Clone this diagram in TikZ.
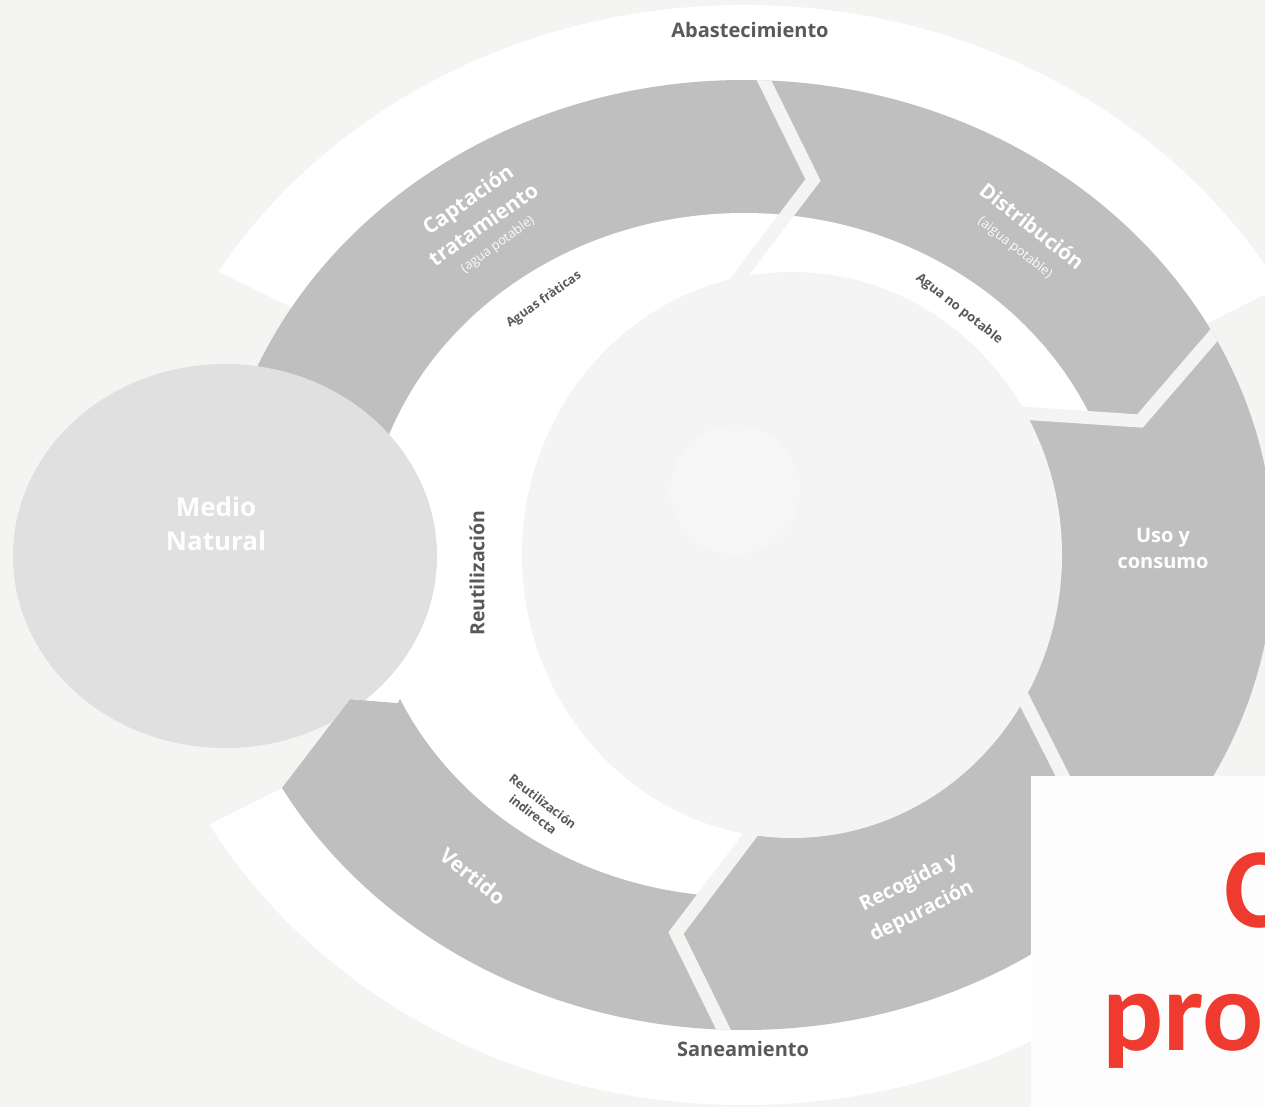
\documentclass[tikz,border=0pt]{standalone}
\usepackage{fontspec}
\setmainfont{Open Sans}
\newfontfamily\redfont{Carlito}
\definecolor{bgc}{HTML}{F4F4F3}
\definecolor{segc}{HTML}{BFBFBF}
\definecolor{natc}{HTML}{E0E0E0}
\definecolor{txtc}{HTML}{595959}
\definecolor{redc}{HTML}{EE3A2F}
\definecolor{innc}{HTML}{F4F4F4}
\definecolor{faintc}{HTML}{F6F6F6}
\definecolor{boxc}{HTML}{FDFDFD}
\tikzset{
 stripe/.style={draw=bgc, line width=13pt, line join=miter, line cap=butt},
 seglbl/.style={text=white, font=\fontsize{21}{25}\selectfont\bfseries, inner sep=0pt},
 sublbl/.style={text=white!94!segc, font=\fontsize{13}{16}\selectfont, inner sep=0pt},
 darklbl/.style={text=txtc, font=\fontsize{12.5}{16}\selectfont\bfseries, inner sep=0pt},
 ringlbl/.style={text=txtc, font=\fontsize{20}{24}\selectfont\bfseries, inner sep=0pt},
}
\begin{document}
\begin{tikzpicture}[x=1pt,y=-1pt]
\useasboundingbox (0,0) rectangle (1265,1107);
\clip (0,0) rectangle (1265,1107);
\fill[bgc] (0,0) rectangle (1265,1107);
\coordinate (C) at (744,555);
% outer white band
\fill[white] (C) ellipse [x radius=613pt, y radius=550pt];
\fill[bgc] (774,542) -- (-100,117) -- (-100,979) -- cycle;
\fill[bgc] (744,558) -- (1400,226) -- (1400,1000) -- cycle;
% gray ring
\begin{scope}
\clip (398,703) -- (350,699) -- (282,788) -- (150,960) -- (1400,1300) -- (1400,-200) -- (100,100) -- (300,470) -- (410,600) -- cycle;
\fill[segc] (C) ellipse [x radius=530pt, y radius=475pt];
\end{scope}
% inner white area
\fill[white] (C) ellipse [x radius=379pt, y radius=342pt];
\fill[white] (350,699) -- (398,703) -- (440,600) -- (330,600) -- cycle;
% inner part of Uso / Recogida
\fill[segc] (1140,421) -- (1020,413) -- (800,555) -- (745,842) -- (676,933) -- (700,960) -- (900,1000) -- (1150,850) -- (1230,700) -- (1180,421) -- cycle;
% gaps between segments
\begin{scope}
\clip (C) ellipse [x radius=530pt, y radius=475pt];
\coordinate (g1a) at (754,60);  \coordinate (g1b) at (813,180);  \coordinate (g1c) at (728,292);
\coordinate (g2a) at (1240,305); \coordinate (g2b) at (1140,421); \coordinate (g2c) at (990,411);
\coordinate (g3a) at (1005,662); \coordinate (g3b) at (1075,800); \coordinate (g3c) at (1190,830);
\coordinate (g4a) at (760,822);  \coordinate (g4b) at (676,933);  \coordinate (g4c) at (735,1053);
\draw[stripe] (g1a) -- (g1b) -- (g1c);
\draw[stripe] (g2a) -- (g2b) -- (g2c);
\draw[stripe] (g3a) -- (g3b) -- (g3c);
\draw[stripe] (g4a) -- (g4b) -- (g4c);
\end{scope}
% Medio Natural
\begin{scope}
\clip (-10,-10) -- (600,-10) -- (600,703) -- (398,703) -- (350,699) -- (282,788) -- (200,900) -- (-10,900) -- cycle;
\fill[natc] (225,556) ellipse [x radius=212pt, y radius=192pt];
\end{scope}
% central disc
\fill[innc] (792,555) ellipse [x radius=270pt, y radius=283pt];
\fill[faintc] (735,490) circle (65pt);
% box
\fill[boxc] (1031,776) rectangle (1270,1110);
\node[anchor=base west, inner sep=0pt, text=redc, font=\redfont\bfseries\fontsize{114}{120}\selectfont] (t1) at (1224,927) {C};
\node[anchor=base west, inner sep=0pt, text=redc, font=\redfont\bfseries\fontsize{114}{120}\selectfont] (t2) at (1102,1050) {pro};
% labels
\node[ringlbl] (abas) at (750,30) {Abastecimiento};
\node[ringlbl] (sane) at (743,1049) {Saneamiento};
\node[seglbl, rotate=35] (cap1) at (469,201) {Captación};
\node[seglbl, rotate=35] (cap2) at (483,224) {tratamiento};
\node[sublbl, rotate=36] (cap3) at (498,245) {(agua potable)};
\node[seglbl, font=\fontsize{20.5}{25}\selectfont\bfseries, rotate=-38] (dis1) at (1032,226) {Distribución};
\node[sublbl, rotate=-38] (dis2) at (1015,248) {(aigua potable)};
\node[darklbl, rotate=35] (fra) at (544,300) {Aguas fràticas};
\node[darklbl, font=\fontsize{13}{16}\selectfont\bfseries, rotate=-38] (nop) at (959,309) {Agua no potable};
\node[darklbl, font=\fontsize{19.5}{22}\selectfont\bfseries, rotate=90] (reu) at (477,573) {Reutilización};
\node[darklbl, font=\fontsize{12.5}{16}\selectfont\bfseries, align=center, rotate=-37.5] (reui) at (538,808) {Reutilización\\indirecta};
\node[seglbl, rotate=-38.7] (ver) at (473,876) {Vertido};
\node[seglbl, font=\fontsize{20}{25}\selectfont\bfseries, rotate=26.5] (rec1) at (909,883) {Recogida y};
\node[seglbl, font=\fontsize{20}{25}\selectfont\bfseries, rotate=26.5] (rec2) at (922,912) {depuración};
\node[seglbl, font=\fontsize{20}{25}\selectfont\bfseries] (uso1) at (1163,538) {Uso y};
\node[seglbl, font=\fontsize{20}{25}\selectfont\bfseries] (uso2) at (1163,563) {consumo};
\node[seglbl, text=white!96!natc, font=\fontsize{26}{30}\selectfont\bfseries] (med1) at (216,507) {Medio};
\node[seglbl, text=white!96!natc, font=\fontsize{26}{30}\selectfont\bfseries] (med2) at (216,541) {Natural};
\end{tikzpicture}
\end{document}
